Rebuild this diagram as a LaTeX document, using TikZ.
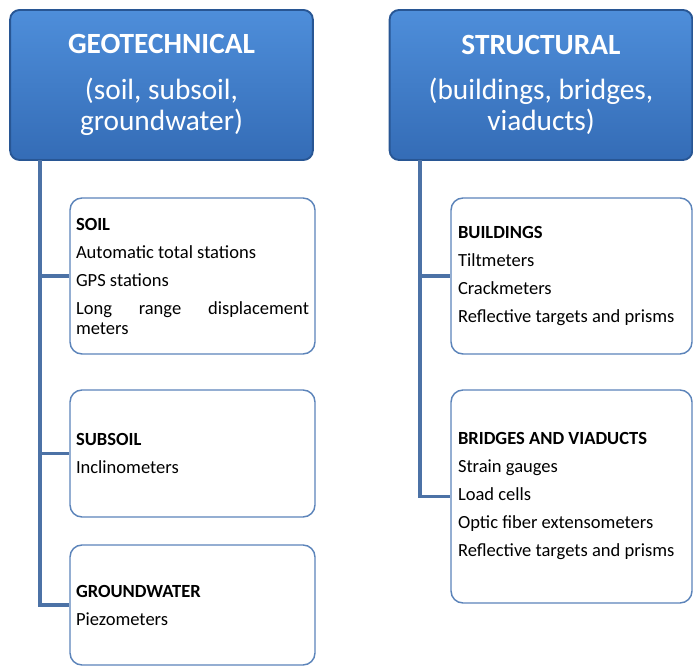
\documentclass[tikz,border=0pt]{standalone}
\usepackage{fontspec}
\setmainfont{Carlito}
\usetikzlibrary{positioning}
\definecolor{hdrtop}{RGB}{78,142,218}
\definecolor{hdrbot}{RGB}{52,108,182}
\definecolor{hdrdark}{RGB}{40,86,148}
\definecolor{subedge}{RGB}{92,132,186}
\definecolor{trunkblue}{RGB}{76,114,166}
\begin{document}
\begin{tikzpicture}[x=0.75pt, y=-0.75pt, line join=round, line cap=round]
	\tikzset{hdr/.style={draw=hdrdark,line width=1.4pt,rounded corners=7pt,top color=hdrtop,bottom color=hdrbot,text=white,align=center,minimum width=227pt,minimum height=112.5pt,font=\fontsize{22}{23.25}\selectfont},
		subl/.style={draw=subedge,line width=1.1pt,rounded corners=9pt,fill=white,align=justify,minimum width=183.75pt,text width=174.75pt,inner xsep=4.5pt,font=\fontsize{13.9}{15}\selectfont},
		subr/.style={subl,minimum width=180.75pt,text width=170.25pt,inner xsep=5.25pt},
		trunk/.style={draw=trunkblue,line width=2.8pt,line cap=butt,line join=miter}}
	\useasboundingbox (0,0) rectangle (693,666);
	% headers
	\path(161.5,85)node[hdr](geo){\textbf{GEOTECHNICAL}\\[11pt](soil, subsoil,\\groundwater)};
	\path(541,85)node[hdr](str){\textbf{STRUCTURAL}\\[11pt](buildings, bridges,\\viaducts)};
	% left column
	\path(192.5,276)node[subl,minimum height=117pt](soil){\textbf{SOIL}\\[6pt]Automatic total stations\\[6pt]GPS stations\\[6pt]Long range \mbox{displacement} \mbox{meters}};
	\path(192.5,453.5)node[subl,minimum height=95.25pt](subsoil){\textbf{SUBSOIL}\\[6pt]Inclinometers};
	\path(192.5,605)node[subl,minimum height=90pt](gw){\textbf{GROUNDWATER}\\[6pt]Piezometers};
	% right column
	\path(571.5,276)node[subr,minimum height=117pt](bldg){\textbf{BUILDINGS}\\[6pt]Tiltmeters\\[6pt]Crackmeters\\[6pt]Reflective targets and prisms};
	\path(571.5,496.5)node[subr,minimum height=159.75pt](brdg){\textbf{BRIDGES AND VIADUCTS}\\[6pt]Strain gauges\\[6pt]Load cells\\[6pt]Optic fiber extensometers\\[6pt]Reflective targets and prisms};
	% connectors
	\coordinate(gt) at (40,160);
	\coordinate(st) at (420,160);
	\foreach \y in {soil,subsoil,gw}
	\draw[trunk](gt)|-(\y.west);
	\foreach \y in {bldg,brdg}
	\draw[trunk](st)|-(\y.west);
\end{tikzpicture}
\end{document}
